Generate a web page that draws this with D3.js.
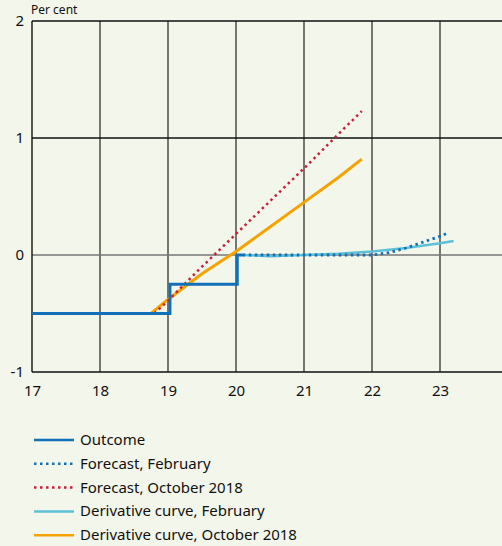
<!DOCTYPE html>
<html>
<head>
<meta charset="utf-8">
<script src="https://cdn.jsdelivr.net/npm/d3@7"></script>
<style>
  body { margin: 0; background: #f3f6ea; }
  svg { display: block; font-family: "Noto Sans", sans-serif; }
</style>
</head>
<body>
<div class="chart"></div>
<script>
// series values (x = year, y = per cent)
const outcome = [[17, -0.5], [19.03, -0.5], [19.03, -0.25], [20.02, -0.25], [20.02, 0], [20.1, 0]];
const forecastFeb = [[20.1, 0], [20.5, 0], [21, 0], [21.5, 0], [22, 0], [22.25, 0.02], [22.5, 0.06], [22.75, 0.11], [23, 0.16], [23.12, 0.19]];
const forecastOct = [[18.8, -0.5], [19, -0.39], [19.5, -0.1], [20, 0.18], [20.5, 0.46], [21, 0.74], [21.5, 1.03], [21.85, 1.23]];
const derivFeb = [[20.1, 0], [20.5, -0.01], [21, 0], [21.5, 0.01], [22, 0.03], [22.5, 0.06], [23, 0.1], [23.2, 0.12]];
const derivOct = [[18.75, -0.5], [19, -0.38], [19.5, -0.16], [20, 0.03], [20.5, 0.24], [21, 0.45], [21.5, 0.66], [21.85, 0.82]];

const xTicks = [17, 18, 19, 20, 21, 22, 23];
const yTicks = [-1, 0, 1, 2];
const legendNames = ["Outcome", "Forecast, February", "Forecast, October 2018", "Derivative curve, February", "Derivative curve, October 2018"];

// size of the chart
const w = 502, h = 546;
const margin = { top: 21, left: 32, bottom: 174 };

const xScale = d3.scaleLinear().domain([17, 24]).range([margin.left, margin.left + 68 * 7]);
const yScale = d3.scaleLinear().domain([-1, 2]).range([h - margin.bottom, margin.top]);

const svg = d3.select("div.chart")
    .append("svg")
    .attr("width", w)
    .attr("height", h);

// grid
svg.append("g")
    .selectAll("line")
    .data(xTicks.slice(1))
    .enter()
    .append("line")
    .attr("x1", d => xScale(d)).attr("x2", d => xScale(d))
    .attr("y1", yScale(2)).attr("y2", yScale(-1))
    .attr("stroke", "#222").attr("stroke-width", 1.2);

svg.append("g")
    .selectAll("line")
    .data(yTicks)
    .enter()
    .append("line")
    .attr("x1", margin.left).attr("x2", w)
    .attr("y1", d => yScale(d)).attr("y2", d => yScale(d))
    .attr("stroke", d => d === 0 ? "#777" : "#111")
    .attr("stroke-width", d => d === 0 ? 1.6 : 1.4);

svg.append("line")
    .attr("x1", margin.left).attr("x2", margin.left)
    .attr("y1", yScale(2)).attr("y2", yScale(-1))
    .attr("stroke", "#111").attr("stroke-width", 1.4);

// axes labels (plain hyphen for negatives, as in the original)
const fmt = d => String(d);
const xAxis = d3.axisBottom(xScale).tickValues(xTicks).tickSize(0).tickPadding(13).tickFormat(fmt);
svg.append("g")
    .attr("transform", "translate(0," + yScale(-1) + ")")
    .call(xAxis)
    .call(g => g.select(".domain").remove())
    .selectAll("text").attr("font-size", 15).attr("fill", "#111").attr("font-family", "Noto Sans");

const yAxis = d3.axisLeft(yScale).tickValues(yTicks).tickSize(0).tickPadding(8).tickFormat(fmt);
svg.append("g")
    .attr("transform", "translate(" + margin.left + ",0)")
    .call(yAxis)
    .call(g => g.select(".domain").remove())
    .selectAll("text").attr("font-size", 15).attr("fill", "#111").attr("font-family", "Noto Sans");

svg.append("text")
    .attr("x", 31).attr("y", 14)
    .attr("font-size", 12).attr("fill", "#111")
    .text("Per cent");

// lines
const line = d3.line().x(d => xScale(d[0])).y(d => yScale(d[1]));

const series = [
    { data: derivFeb, color: "#5cc0d8", width: 2.5, dash: null },
    { data: derivOct, color: "#f5a300", width: 3, dash: null },
    { data: forecastOct, color: "#c4213c", width: 2.5, dash: "2.5,3.5" },
    { data: outcome, color: "#1170b8", width: 2.8, dash: null },
    { data: forecastFeb, color: "#1170b8", width: 2.8, dash: "2.5,3.5" }
];

svg.append("g")
    .selectAll("path")
    .data(series)
    .enter()
    .append("path")
    .attr("d", d => line(d.data))
    .attr("fill", "none")
    .attr("stroke", d => d.color)
    .attr("stroke-width", d => d.width)
    .attr("stroke-dasharray", d => d.dash);

// legend
const legendStyle = [series[3], series[4], series[2], series[0], series[1]];
const legend = svg.append("g")
    .selectAll("g")
    .data(legendNames)
    .enter()
    .append("g")
    .attr("transform", (d, i) => "translate(34," + (440 + i * 23.8) + ")");

legend.append("line")
    .attr("x1", 0).attr("x2", 40)
    .attr("stroke", (d, i) => legendStyle[i].color)
    .attr("stroke-width", 2.5)
    .attr("stroke-dasharray", (d, i) => legendStyle[i].dash);

legend.append("text")
    .attr("x", 46).attr("y", 5)
    .attr("font-size", 15).attr("fill", "#111")
    .text(d => d);
</script>
</body>
</html>
